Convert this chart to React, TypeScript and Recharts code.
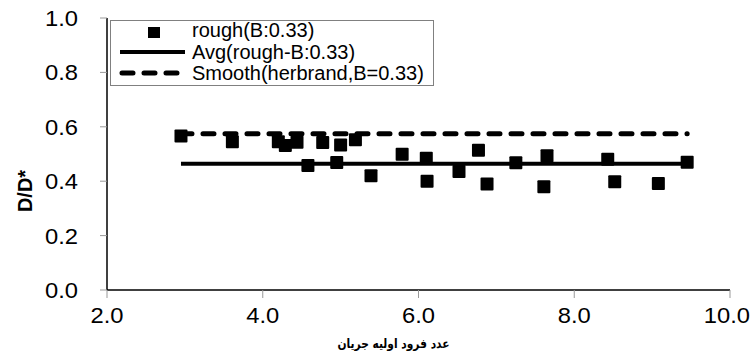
import React from "react";
import {
  ScatterChart,
  Scatter,
  XAxis,
  YAxis,
  Legend,
} from "recharts";

// measured points, rough bed (B = 0.33)
const roughX = [
  2.95, 3.61, 4.2, 4.29, 4.44, 4.58, 4.77, 4.95, 5.0, 5.19, 5.39, 5.79, 6.1,
  6.11, 6.52, 6.77, 6.88, 7.25, 7.61, 7.65, 8.43, 8.52, 9.08, 9.45,
];
const roughY = [
  0.566, 0.545, 0.545, 0.531, 0.543, 0.458, 0.542, 0.469, 0.533, 0.552, 0.42,
  0.499, 0.484, 0.4, 0.436, 0.514, 0.39, 0.468, 0.38, 0.494, 0.481, 0.398,
  0.392, 0.47,
];

const lineX = [2.95, 9.45];
const avgRough = 0.464;
const smoothHerbrand = 0.574;

const xTicks = [2, 4, 6, 8, 10];
const yTicks = [0, 0.2, 0.4, 0.6, 0.8, 1.0];

const legendLabels = [
  "rough(B:0.33)",
  "Avg(rough-B:0.33)",
  "Smooth(herbrand,B=0.33)",
];
const xLabel = "عدد فرود اوليه جريان";
const yLabel = "D/D*";

const roughData = roughX.map((x, i) => ({ x, y: roughY[i] }));
const avgData = lineX.map((x) => ({ x, y: avgRough }));
const smoothData = lineX.map((x) => ({ x, y: smoothHerbrand }));

const FONT = "Liberation Sans, Arial, sans-serif";
const STRETCH = 1.08;

const SquareDot = (props: { cx?: number; cy?: number }) => {
  const { cx = 0, cy = 0 } = props;
  return <rect x={cx - 6.5} y={cy - 6.5} width={13} height={13} rx={1} fill="#000" />;
};

const NoDot = () => <g />;

const YTick = (props: any) => {
  const { x, y, payload } = props;
  return (
    <text
      transform={`translate(${x},${y + 8}) scale(${STRETCH},1)`}
      textAnchor="end"
      fontFamily={FONT}
      fontSize={22}
      fill="#000"
    >
      {Number(payload.value).toFixed(1)}
    </text>
  );
};

const XTick = (props: any) => {
  const { x, y, payload } = props;
  const last = payload.value === 10;
  return (
    <text
      transform={`translate(${last ? 750 : x},${y + 18}) scale(${STRETCH},1)`}
      textAnchor={last ? "end" : "middle"}
      fontFamily={FONT}
      fontSize={22}
      fill="#000"
    >
      {Number(payload.value).toFixed(1)}
    </text>
  );
};

const XTitle = (props: any) => {
  const vb = props.viewBox || {};
  const cx = (vb.x ?? 0) + (vb.width ?? 0) / 2;
  return (
    <text
      x={cx - 25}
      y={348}
      textAnchor="middle"
      fontFamily="DejaVu Sans, sans-serif"
      fontWeight="bold"
      fontSize={13}
      textLength={112}
      lengthAdjust="spacingAndGlyphs"
      fill="#000"
    >
      {xLabel}
    </text>
  );
};

const YTitle = () => (
  <text
    transform="translate(32,191) rotate(-90)"
    textAnchor="middle"
    fontFamily={FONT}
    fontWeight="bold"
    fontSize={20}
    fill="#000"
  >
    {yLabel}
  </text>
);

const LegendBox = () => (
  <svg width={324} height={66} style={{ display: "block" }}>
    <rect x={0.5} y={0.5} width={323} height={65} fill="#fff" stroke="#808080" />
    <rect x={38} y={7} width={12} height={11} fill="#000" />
    <line x1={10} y1={32} x2={75} y2={32} stroke="#000" strokeWidth={4} />
    <line
      x1={12}
      y1={53}
      x2={68}
      y2={53}
      stroke="#000"
      strokeWidth={5}
      strokeDasharray="11 11"
      strokeLinecap="round"
    />
    {legendLabels.map((t, i) => (
      <text
        key={t}
        x={82}
        y={17 + i * 21.5}
        fontFamily={FONT}
        fontSize={20}
        fill="#000"
      >
        {t}
      </text>
    ))}
  </svg>
);

export default function App() {
  return (
    <div style={{ position: "absolute", left: 0, top: 0, background: "#fff" }}>
      <ScatterChart
        width={751}
        height={358}
        margin={{ top: 18, right: 21, left: 0, bottom: 0 }}
      >
        {/* plot frame: grey top and right edges */}
        <XAxis
          xAxisId="top"
          orientation="top"
          type="number"
          dataKey="x"
          domain={[2, 10]}
          tick={false}
          tickLine={false}
          axisLine={{ stroke: "#999" }}
          height={0}
        />
        <YAxis
          yAxisId="right"
          orientation="right"
          type="number"
          dataKey="y"
          domain={[0, 1]}
          tick={false}
          tickLine={false}
          axisLine={{ stroke: "#999" }}
          width={0}
        />
        <XAxis
          type="number"
          dataKey="x"
          domain={[2, 10]}
          ticks={xTicks}
          interval={0}
          tickSize={8}
          tickMargin={7}
          tick={(p: any) => <XTick {...p} />}
          tickLine={{ stroke: "#999" }}
          axisLine={{ stroke: "#000", strokeWidth: 1.5 }}
          height={68}
          label={{ content: (p: any) => <XTitle {...p} /> }}
        />
        <YAxis
          type="number"
          dataKey="y"
          domain={[0, 1]}
          ticks={yTicks}
          interval={0}
          tickSize={7}
          tickMargin={22}
          tick={(p: any) => <YTick {...p} />}
          tickLine={{ stroke: "#999" }}
          axisLine={{ stroke: "#000", strokeWidth: 1.5 }}
          width={107}
          label={{ content: () => <YTitle /> }}
        />
        <Legend
          layout="vertical"
          align="center"
          verticalAlign="middle"
          content={() => <LegendBox />}
          wrapperStyle={{ left: 110, top: 20, width: 324, height: 66 }}
        />
        <Scatter
          name="smooth"
          data={smoothData}
          shape={NoDot}
          line={{ stroke: "#000", strokeWidth: 5, strokeDasharray: "11 11", strokeLinecap: "round" }}
          isAnimationActive={false}
        />
        <Scatter
          name="avg"
          data={avgData}
          shape={NoDot}
          line={{ stroke: "#000", strokeWidth: 4 }}
          isAnimationActive={false}
        />
        <Scatter
          name="rough"
          data={roughData}
          shape={(p: any) => <SquareDot {...p} />}
          isAnimationActive={false}
        />
      </ScatterChart>
    </div>
  );
}
